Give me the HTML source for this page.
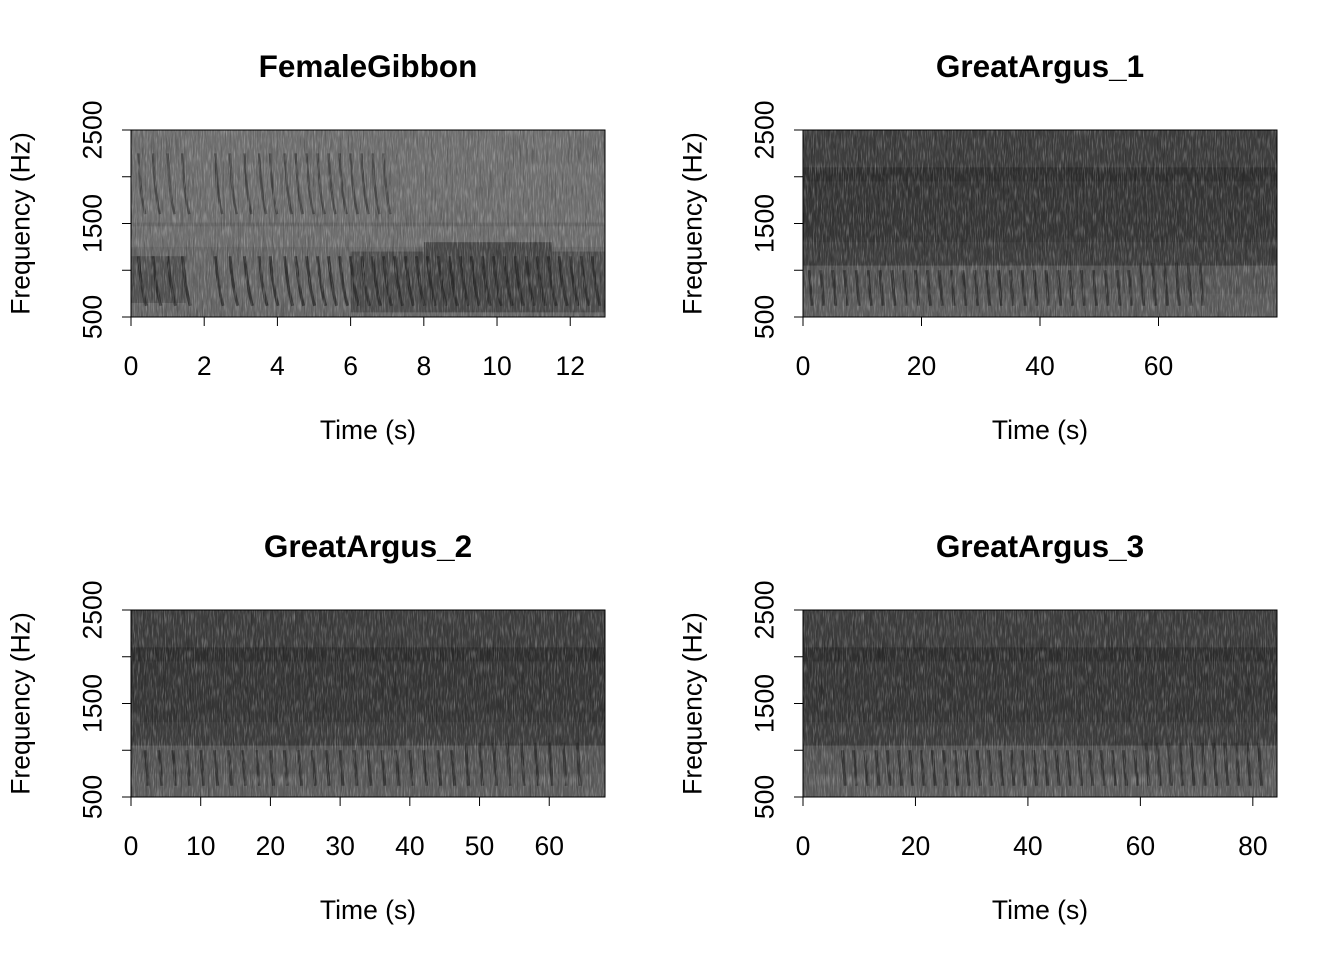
<!DOCTYPE html>
<html><head><meta charset="utf-8"><title>Spectrograms</title>
<style>
html,body{margin:0;padding:0;background:#fff;}
svg{display:block;font-family:"Liberation Sans",Arial,sans-serif;}
</style></head>
<body>
<svg id="fig" width="1344" height="960" viewBox="0 0 1344 960" xmlns="http://www.w3.org/2000/svg">
<defs>
<filter id="noise" x="0" y="0" width="100%" height="100%">
<feTurbulence type="fractalNoise" baseFrequency="0.9 0.08" numOctaves="2" seed="3"/>
<feColorMatrix type="matrix" values="0 0 0 0 1  0 0 0 0 1  0 0 0 0 1  0 0 0 2.2 -1.05"/>
</filter>
<filter id="noise2" x="0" y="0" width="100%" height="100%">
<feTurbulence type="fractalNoise" baseFrequency="0.6 0.03" numOctaves="2" seed="9"/>
<feColorMatrix type="matrix" values="0 0 0 0 0  0 0 0 0 0  0 0 0 0 0  0 0 0 1.8 -0.9"/>
</filter>
</defs>
</svg>
<script>
// ---- data ----
const panelTitles = ["FemaleGibbon","GreatArgus_1","GreatArgus_2","GreatArgus_3"];
const panelXMax = [12.95, 80, 68, 84.3];
const panelXTicks = [[0,2,4,6,8,10,12],[0,20,40,60],[0,10,20,30,40,50,60],[0,20,40,60,80]];
const yTicks = [500,1000,1500,2000,2500];
const yTickLabels = ["500","","1500","","2500"];
// background bands: [freqLow, freqHigh, grayLevel]
const bands0 = [[500,2500,112],[500,1250,104],[1470,1510,102]];
const bandsArgus = [[500,2500,62],[1300,1950,55],[1950,2100,48],[500,1050,88],[500,750,94]];
// gibbon lower dark band over time: [t0, t1, fLow, fHigh, gray]
const gibbonBand = [[0,1.5,650,1150,78],[6,8,550,1200,72],[8,11.5,550,1300,65],[11.5,12.95,550,1200,72]];
// call times (s)
const gibbonCalls = [0.2,0.6,1.0,1.4,2.3,2.7,3.1,3.5,3.8,4.2,4.5,4.8,5.1,5.4,5.7,6.0,6.3,6.6,6.9,7.2,7.5,7.8,8.1,8.4,8.7,9.0,9.3,9.6,9.9,10.2,10.5,10.8,11.1,11.4,11.7,12.0,12.3,12.6];
const argus1Calls = [1,3,5,7,9,11,13,15,17,19,21,23,25,27,29,31,33,35,37,39,41,43,45,47,49,51,53,55,57,59,61,63,65,67];
const argus2Calls = [2,4,6,8,10,12,14,16,18,20,22,24,26,28,30,32,34,36,38,40,42,44,46,48,50,52,54,56,58,60,62,64];
const argus3Calls = [7,9,11,13,15,17,19,21,23,25,27,29,31,33,35,37,39,41,43,45,47,49,51,53,55,57,59,61,63,65,67,69,71,73,75,77,79,81];
const callTop = [null, 1000, 1000, 1000];
const panelCalls = [gibbonCalls, argus1Calls, argus2Calls, argus3Calls];

// ---- layout ----
const NS="http://www.w3.org/2000/svg";
const svg=document.getElementById('fig');
const panels=[{x:131,y:130},{x:803,y:130},{x:131,y:610},{x:803,y:610}];
const PW=474, PH=187;
function mk(tag,attrs,parent){const e=document.createElementNS(NS,tag);for(const k in attrs)e.setAttribute(k,attrs[k]);(parent||svg).appendChild(e);return e;}
function g(v){return `rgb(${v},${v},${v})`;}

panels.forEach((p,i)=>{
  const xs=t=>p.x+t/panelXMax[i]*PW;
  const ys=f=>p.y+PH-(f-500)/2000*PH;
  const grp=mk('g',{});
  
  
  const cid='clip'+i;
  const cp=mk('clipPath',{id:cid},grp);mk('rect',{x:p.x,y:p.y,width:PW,height:PH},cp);
  const area=mk('g',{'clip-path':`url(#${cid})`},grp);
  
  
  const bands=i===0?bands0:bandsArgus;
  bands.forEach(b=>{mk('rect',{x:p.x,y:ys(b[1]),width:PW,height:ys(b[0])-ys(b[1]),fill:g(b[2])},area);});
  if(i===0){
    gibbonBand.forEach(b=>{mk('rect',{x:xs(b[0]),y:ys(b[3]),width:xs(b[1])-xs(b[0]),height:ys(b[2])-ys(b[3]),fill:g(b[4]),opacity:0.8},area);});
  }
  panelCalls[i].forEach((t,k)=>{
    if(i===0){
      const low=mk('path',{d:`M${xs(t)} ${ys(1150)} Q${xs(t)+3} ${ys(800)} ${xs(t)+8} ${ys(620)}`,stroke:'#2a2a2a','stroke-width':3,fill:'none',opacity:0.8},area);
      
      
      if(t<7){
        const up=mk('path',{d:`M${xs(t)} ${ys(2250)} Q${xs(t)+2} ${ys(1800)} ${xs(t)+7} ${ys(1600)}`,stroke:'#3a3a3a','stroke-width':2.5,fill:'none',opacity:0.7},area);
        
        
      }
    } else {
      const top=callTop[i]+(t>panelXMax[i]*0.7?80:0);
      const m=mk('path',{d:`M${xs(t)} ${ys(top)} L${xs(t)+3} ${ys(620)}`,stroke:'#2c2c2c','stroke-width':3,fill:'none',opacity:0.75},area);
      
      
    }
  });
  mk('rect',{x:p.x,y:p.y,width:PW,height:PH,filter:'url(#noise2)',opacity:0.35},area);
  mk('rect',{x:p.x,y:p.y,width:PW,height:PH,filter:'url(#noise)',opacity:0.35},area);
  const frame=mk('rect',{x:p.x,y:p.y,width:PW,height:PH,fill:'none',stroke:'#000','stroke-width':1},grp);
  
  
  // title
  const ti=mk('text',{x:p.x+PW/2,y:p.y-53,'text-anchor':'middle','font-size':31.5,'font-weight':'bold'},grp);
  ti.textContent=panelTitles[i];
  
  
  // x axis
  const xa=mk('g',{},grp);
  
  
  const tk=panelXTicks[i];
  mk('line',{x1:xs(tk[0]),x2:xs(tk[tk.length-1]),y1:p.y+PH,y2:p.y+PH,stroke:'#000'},xa);
  tk.forEach(t=>{
    mk('line',{x1:xs(t),x2:xs(t),y1:p.y+PH,y2:p.y+PH+9,stroke:'#000'},xa);
    const l=mk('text',{x:xs(t),y:p.y+PH+58,'text-anchor':'middle','font-size':26.5},xa);
    l.textContent=t;
    
    
  });
  const xt=mk('text',{x:p.x+PW/2,y:p.y+PH+122,'text-anchor':'middle','font-size':26.5},grp);
  xt.textContent='Time (s)';
  
  
  // y axis
  const ya=mk('g',{},grp);
  
  
  mk('line',{x1:p.x,x2:p.x,y1:ys(500),y2:ys(2500),stroke:'#000'},ya);
  yTicks.forEach((f,k)=>{
    mk('line',{x1:p.x-9,x2:p.x,y1:ys(f),y2:ys(f),stroke:'#000'},ya);
    if(yTickLabels[k]){
      const l=mk('text',{x:p.x-39,y:ys(f),'text-anchor':'middle','font-size':26.5,transform:`rotate(-90 ${p.x-39} ${ys(f)})`,dy:'0.35em'},ya);
      l.textContent=yTickLabels[k];
      
      
    }
  });
  const yt=mk('text',{x:p.x-111,y:p.y+PH/2,'text-anchor':'middle','font-size':26.5,transform:`rotate(-90 ${p.x-111} ${p.y+PH/2})`,dy:'0.35em'},grp);
  yt.textContent='Frequency (Hz)';
  
  
});
</script>
</body></html>
